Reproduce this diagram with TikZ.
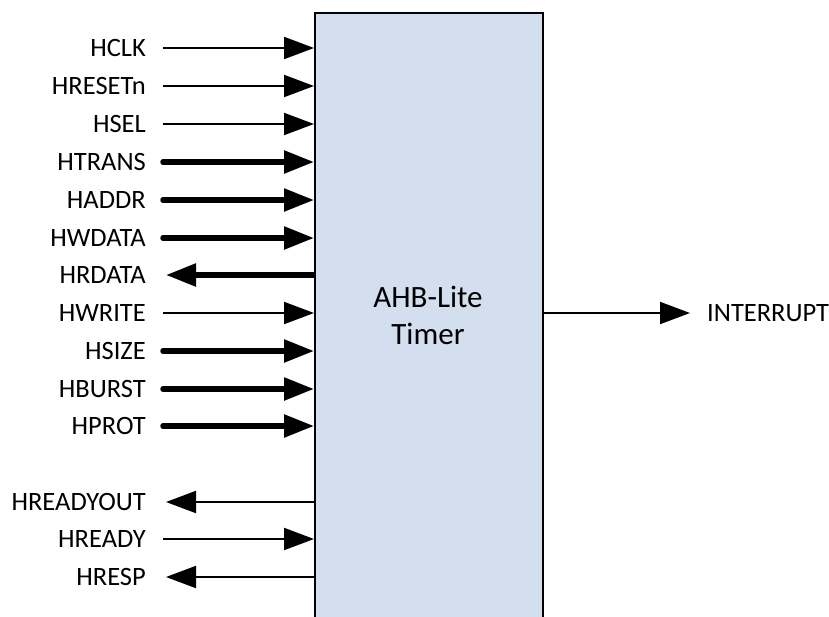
\documentclass[tikz,border=0pt]{standalone}
\usepackage{fontspec}
\setmainfont{Carlito}
\usetikzlibrary{arrows.meta}
\definecolor{boxblue}{HTML}{D3DEEE}
\tikzset{
  sig/.style={line width=2pt, -{Triangle[length=30pt,width=22pt]}},
  bus/.style={line width=5.5pt, line cap=round, -{Triangle[length=30pt,width=22pt]}},
  lbl/.style={anchor=east, inner sep=0pt, font=\fontsize{26.5}{26.5}\selectfont, text depth=0pt},
}
\begin{document}
\begin{tikzpicture}[x=1pt, y=-1pt]
  \clip (0,0) rectangle (829,616) ;
  \useasboundingbox (0,0) rectangle (829,616) ;
  % the block
  \node[draw, line width=2.2pt, fill=boxblue, anchor=north west, minimum width=228pt, minimum height=640pt, inner sep=0pt] (timer) at (314,12) {} ;
  \node[align=center, font=\fontsize{31}{37}\selectfont] (name) at (428,315) {AHB-Lite\\Timer} ;
  % signal names
  \node[lbl] (hclk) at (146,48) {HCLK} ;
  \node[lbl] (hresetn) at (146,86) {HRESETn} ;
  \node[lbl] (hsel) at (146,124) {HSEL} ;
  \node[lbl] (htrans) at (146,162) {HTRANS} ;
  \node[lbl] (haddr) at (146,200) {HADDR} ;
  \node[lbl] (hwdata) at (146,238) {HWDATA} ;
  \node[lbl] (hrdata) at (146,275) {HRDATA} ;
  \node[lbl] (hwrite) at (146,313) {HWRITE} ;
  \node[lbl] (hsize) at (146,351) {HSIZE} ;
  \node[lbl] (hburst) at (146,389) {HBURST} ;
  \node[lbl] (hprot) at (146,426) {HPROT} ;
  \node[lbl] (hreadyout) at (146,502) {HREADYOUT} ;
  \node[lbl] (hready) at (146,539) {HREADY} ;
  \node[lbl] (hresp) at (146,577) {HRESP} ;
  \node[lbl, anchor=west] (interrupt) at (707,313) {INTERRUPT} ;
  % inputs
  \draw[sig] ([xshift=17pt]hclk.east) -- (hclk -| timer.west) ;
  \draw[sig] ([xshift=17pt]hresetn.east) -- (hresetn -| timer.west) ;
  \draw[sig] ([xshift=17pt]hsel.east) -- (hsel -| timer.west) ;
  \draw[bus] ([xshift=17pt]htrans.east) -- (htrans -| timer.west) ;
  \draw[bus] ([xshift=17pt]haddr.east) -- (haddr -| timer.west) ;
  \draw[bus] ([xshift=17pt]hwdata.east) -- (hwdata -| timer.west) ;
  \draw[sig] ([xshift=17pt]hwrite.east) -- (hwrite -| timer.west) ;
  \draw[bus] ([xshift=17pt]hsize.east) -- (hsize -| timer.west) ;
  \draw[bus] ([xshift=17pt]hburst.east) -- (hburst -| timer.west) ;
  \draw[bus] ([xshift=17pt]hprot.east) -- (hprot -| timer.west) ;
  \draw[sig] ([xshift=17pt]hready.east) -- (hready -| timer.west) ;
  % outputs
  \draw[bus, line cap=butt] (hrdata -| timer.west) -- ([xshift=20pt]hrdata.east) ;
  \draw[sig] (hreadyout -| timer.west) -- ([xshift=20pt]hreadyout.east) ;
  \draw[sig] (hresp -| timer.west) -- ([xshift=20pt]hresp.east) ;
  \draw[sig] (interrupt -| timer.east) -- ([xshift=-17pt]interrupt.west) ;
\end{tikzpicture}
\end{document}
